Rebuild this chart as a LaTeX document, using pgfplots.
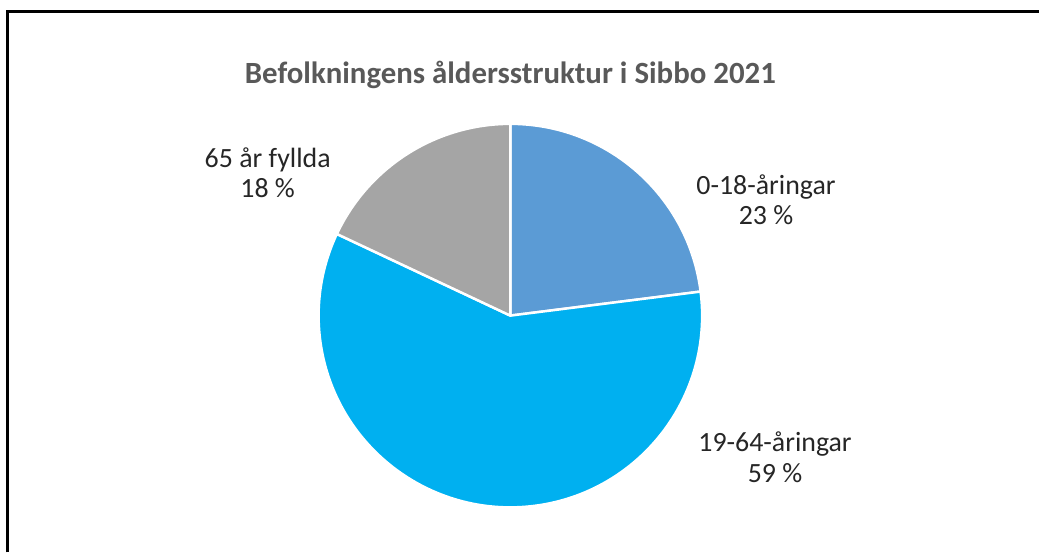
\documentclass[border=0pt]{standalone}
\usepackage{pgfplots}
\usepackage{pgfplotstable}
\pgfplotsset{compat=1.18}
\usepackage{fontspec}
\setmainfont{Carlito}
\definecolor{cA}{HTML}{5B9BD5}
\definecolor{cB}{HTML}{00B0F0}
\definecolor{cC}{HTML}{A5A5A5}
\definecolor{titlegray}{HTML}{595959}
\definecolor{labelgray}{HTML}{262626}
\pgfplotstableread{
value
23
59
18
}\piedata
\begin{document}
\begin{tikzpicture}
\pgfplotstablegetelem{0}{value}\of\piedata \let\va\pgfplotsretval
\pgfplotstablegetelem{1}{value}\of\piedata \let\vb\pgfplotsretval
\pgfplotstablegetelem{2}{value}\of\piedata \let\vc\pgfplotsretval
\pgfmathsetmacro\tot{\va+\vb+\vc}
\pgfmathsetmacro\aS{90}
\pgfmathsetmacro\aA{90-\va/\tot*360}
\pgfmathsetmacro\aB{\aA-\vb/\tot*360}
\pgfmathsetmacro\aC{\aB-\vc/\tot*360}
\begin{axis}[hide axis, scale only axis, width=1040bp, height=553bp,
  xmin=0, xmax=1040, ymin=0, ymax=553, y dir=reverse, clip=false]
\addplot[draw=none, forget plot] coordinates {(0,0) (1040,553)};
\fill[cA, draw=white, line width=2.5bp, line join=round] (axis cs:511,316) -- ++(\aS:192bp) arc[start angle=\aS, end angle=\aA, radius=192bp] -- cycle;
\fill[cB, draw=white, line width=2.5bp, line join=round] (axis cs:511,316) -- ++(\aA:192bp) arc[start angle=\aA, end angle=\aB, radius=192bp] -- cycle;
\fill[cC, draw=white, line width=2.5bp, line join=round] (axis cs:511,316) -- ++(\aB:192bp) arc[start angle=\aB, end angle=\aC, radius=192bp] -- cycle;
\draw[black, line width=2.6bp] (axis cs:7.5,553) -- (axis cs:7.5,11.5) -- (axis cs:1040,11.5);
\node[font=\fontsize{31}{36}\selectfont\bfseries, text=titlegray] at (axis cs:511,75) {Befolkningens åldersstruktur i Sibbo 2021};
\node[font=\fontsize{28}{31}\selectfont, text=labelgray, align=center] at (axis cs:767,200) {0-18-åringar\\23 \%};
\node[font=\fontsize{28}{31}\selectfont, text=labelgray, align=center] at (axis cs:776,458) {19-64-åringar\\59 \%};
\node[font=\fontsize{28}{31}\selectfont, text=labelgray, align=center] at (axis cs:268,173) {65 år fyllda\\18 \%};
\end{axis}
\end{tikzpicture}
\end{document}
